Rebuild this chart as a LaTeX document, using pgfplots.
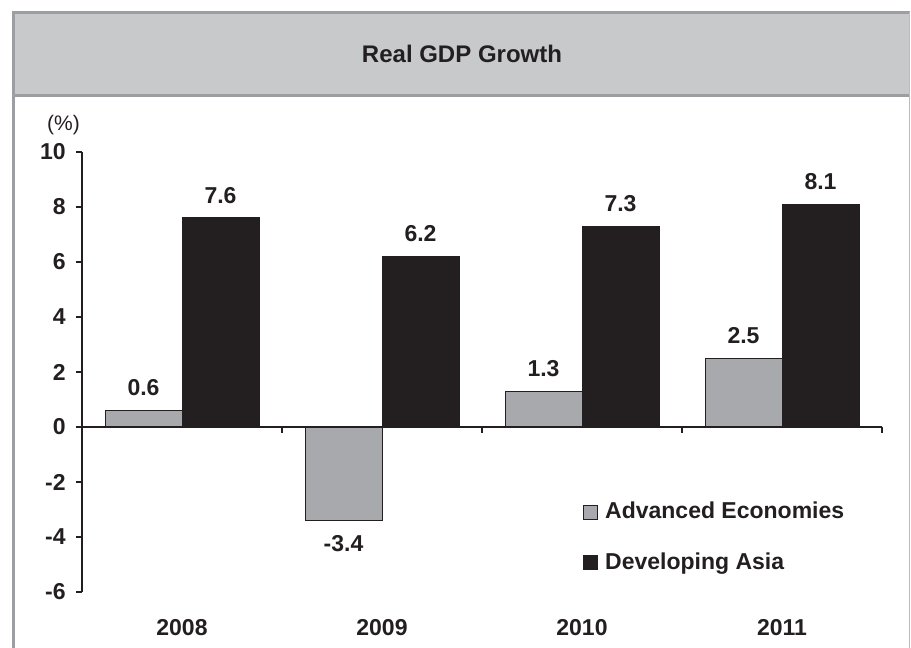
\documentclass[border=0pt]{standalone}
\usepackage{pgfplots}
\pgfplotsset{compat=1.18}
\usepackage{fontspec}
\setmainfont{Liberation Sans}
\definecolor{barg}{HTML}{A7A9AC}
\definecolor{bark}{HTML}{231F20}
\definecolor{band}{HTML}{C8C9CB}
\definecolor{framec}{HTML}{9C9EA1}
\begin{document}
\begin{tikzpicture}
\useasboundingbox (0pt,0pt) rectangle (455.5pt,324pt);
\fill[band] (6.5pt,276pt) rectangle (454.5pt,317.5pt);
\draw[framec,line width=1.5pt] (6.75pt,0pt) -- (6.75pt,317.75pt) -- (454.75pt,317.75pt);
\draw[framec,line width=1.5pt] (6.75pt,276pt) -- (454.5pt,276pt);
\draw[framec!70,line width=0.75pt] (454.75pt,0pt) -- (454.75pt,318pt);
\node[anchor=base,font=\fontsize{12}{14}\selectfont\bfseries,text=bark] at (231pt,292.5pt) {Real GDP Growth};
\node[font=\fontsize{10.5}{12}\selectfont,text=bark] at (31.75pt,261.5pt) {(\%)};
\begin{axis}[
  at={(41pt,28pt)}, anchor=south west,
  width=400pt, height=220pt, scale only axis,
  xmin=-0.5, xmax=3.5, ymin=-6, ymax=10,
  clip=false,
  ybar=0pt, bar width=38.5pt,
  axis y line*=left,
  axis x line*=bottom,
  x axis line style={draw=none},
  y axis line style={bark, line width=1pt},
  xtick={0,1,2,3},
  xticklabels={2008,2009,2010,2011},
  xtick style={draw=none},
  ytick={-6,-4,-2,0,2,4,6,8,10},
  yticklabels={-6,-4,-2,0,2,4,6,8,10},
  ytick style={bark, line width=1pt},
  tick align=outside,
  major tick length=3pt,
  yticklabel style={font=\fontsize{11.5}{13}\selectfont\bfseries, text=bark, anchor=east, inner xsep=0pt, xshift=-5pt},
  xticklabel style={font=\fontsize{11.5}{13}\selectfont\bfseries, text=bark, anchor=center, yshift=-15pt},
  /pgf/number format/assume math mode=true,
  nodes near coords={\pgfmathprintnumber[fixed,precision=1,fixed zerofill]{\pgfplotspointmeta}},
  every node near coord/.append style={font=\fontsize{11.5}{13}\selectfont\bfseries, text=bark, inner ysep=7pt},
  legend image code/.code={\draw[#1,draw=bark,line width=0.5pt] (0pt,-3.5pt) rectangle (7pt,3.5pt);},
  legend cell align=left,
  legend style={at={(0.626,0.124)}, anchor=west, draw=none, fill=none, inner sep=0pt,
    font=\fontsize{11.5}{13}\selectfont\bfseries, text=bark, row sep=11.5pt,
    /tikz/every odd column/.append style={column sep=1.5pt}},
]
\addplot[fill=barg, draw=bark, line width=0.5pt] coordinates {(0,0.6) (1,-3.4) (2,1.3) (3,2.5)};
\addlegendentry{Advanced Economies}
\addplot[fill=bark, draw=bark, line width=0.5pt] coordinates {(0,7.6) (1,6.2) (2,7.3) (3,8.1)};
\addlegendentry{Developing Asia}
\draw[bark, line width=1pt] (axis cs:-0.5,0) -- (axis cs:3.5,0);
\pgfplotsinvokeforeach{0.5,1.5,2.5,3.5}{\draw[bark, line width=1pt] (axis cs:#1,0) -- ([yshift=-3pt]axis cs:#1,0);}
\end{axis}
\end{tikzpicture}
\end{document}
